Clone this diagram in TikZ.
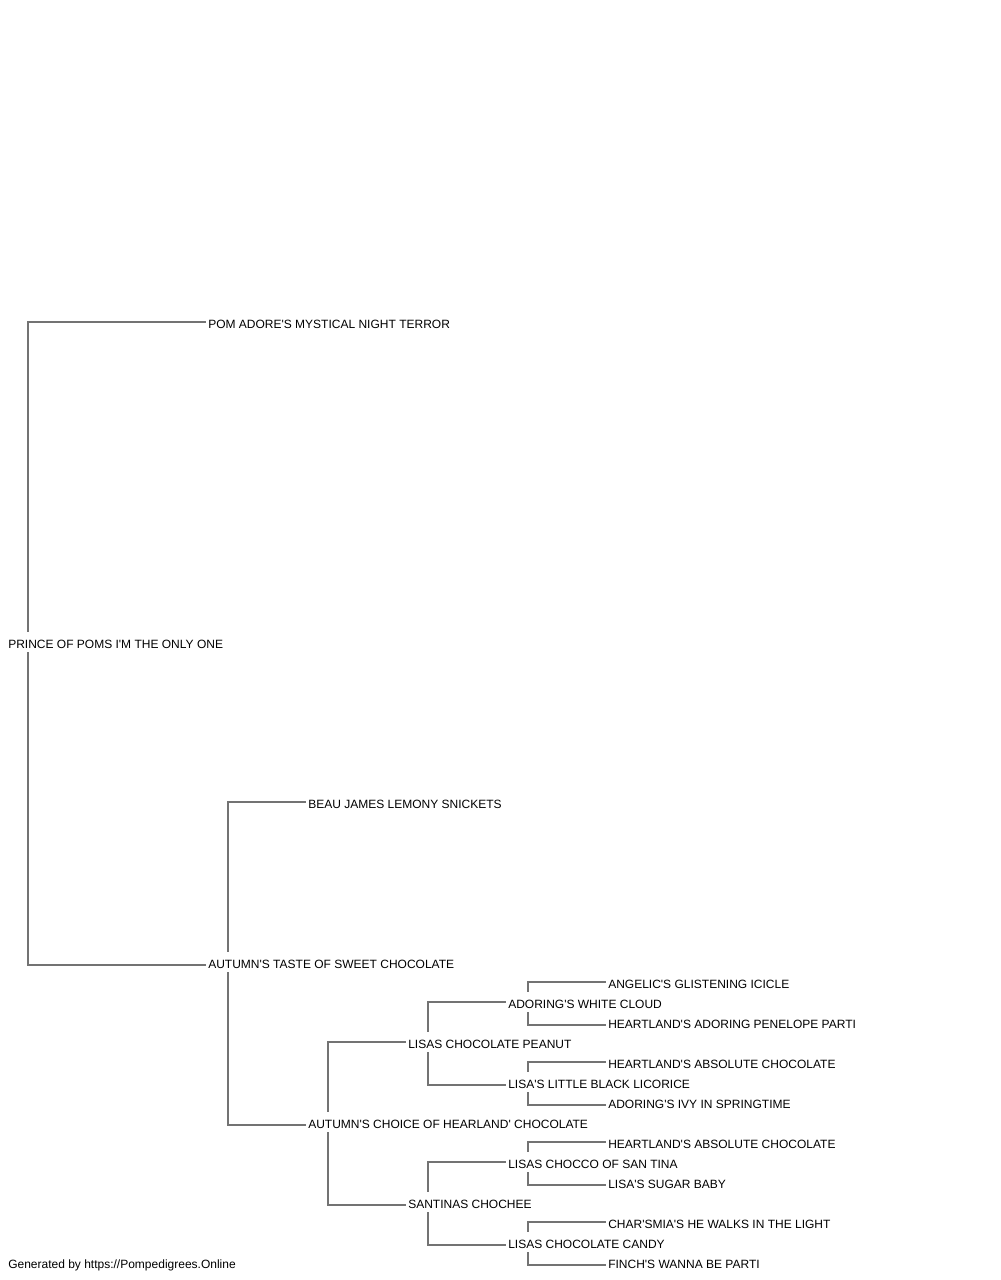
\documentclass[tikz,border=0pt]{standalone}
\usepackage{fontspec}
\newfontfamily\pedfont{Liberation Sans}
\usepackage{tikz}
\usetikzlibrary{positioning, calc, backgrounds}

\begin{document}
\begin{tikzpicture}[
    x=0.75pt, y=-0.75pt,
    dog/.style={anchor=west, fill=white, inner xsep=1.5pt, inner ysep=1.2pt, text height=11pt, text depth=1.55pt, font=\pedfont\fontsize{9pt}{11pt}\selectfont},
    link/.style={draw=black!55, line width=1.1pt}
]
    \useasboundingbox (0,0) rectangle (1000,1280);

    % Dog
    \node[dog] (prince) at (6, 642) {PRINCE OF POMS I'M THE ONLY ONE};

    % Parents
    \node[dog] (pomadore) at (206, 322) {POM ADORE'S MYSTICAL NIGHT TERROR};
    \node[dog] (autumntaste) at (206, 962) {AUTUMN'S TASTE OF SWEET CHOCOLATE};

    % Grandparents
    \node[dog] (beaujames) at (306, 802) {BEAU JAMES LEMONY SNICKETS};
    \node[dog] (autumnchoice) at (306, 1122) {AUTUMN'S CHOICE OF HEARLAND' CHOCOLATE};

    % Great-grandparents
    \node[dog] (peanut) at (406, 1042) {LISAS CHOCOLATE PEANUT};
    \node[dog] (santinas) at (406, 1202) {SANTINAS CHOCHEE};

    % 4th generation
    \node[dog] (whitecloud) at (506, 1002) {ADORING'S WHITE CLOUD};
    \node[dog] (licorice) at (506, 1082) {LISA'S LITTLE BLACK LICORICE};
    \node[dog] (chocco) at (506, 1162) {LISAS CHOCCO OF SAN TINA};
    \node[dog] (candy) at (506, 1242) {LISAS CHOCOLATE CANDY};

    % 5th generation
    \node[dog] (icicle) at (606, 982) {ANGELIC'S GLISTENING ICICLE};
    \node[dog] (penelope) at (606, 1022) {HEARTLAND'S ADORING PENELOPE PARTI};
    \node[dog] (absoluteA) at (606, 1062) {HEARTLAND'S ABSOLUTE CHOCOLATE};
    \node[dog] (ivy) at (606, 1102) {ADORING'S IVY IN SPRINGTIME};
    \node[dog] (absoluteB) at (606, 1142) {HEARTLAND'S ABSOLUTE CHOCOLATE};
    \node[dog] (sugarbaby) at (606, 1182) {LISA'S SUGAR BABY};
    \node[dog] (charsmia) at (606, 1222) {CHAR'SMIA'S HE WALKS IN THE LIGHT};
    \node[dog] (finch) at (606, 1262) {FINCH'S WANNA BE PARTI};

    % Footer
    \node[dog] (footer) at (6, 1262) {Generated by https://Pompedigrees.Online};

    % Links (lower parent lines sit a little below the name)
    \begin{scope}[on background layer]
    \draw[link] ([xshift=16.5pt]prince.west) |- (pomadore.west);
    \draw[link] ([xshift=16.5pt]prince.west) |- ([yshift=-2.25pt]autumntaste.west);
    \draw[link] ([xshift=16.5pt]autumntaste.west) |- (beaujames.west);
    \draw[link] ([xshift=16.5pt]autumntaste.west) |- ([yshift=-2.25pt]autumnchoice.west);
    \draw[link] ([xshift=16.5pt]autumnchoice.west) |- (peanut.west);
    \draw[link] ([xshift=16.5pt]autumnchoice.west) |- ([yshift=-2.25pt]santinas.west);
    \draw[link] ([xshift=16.5pt]peanut.west) |- (whitecloud.west);
    \draw[link] ([xshift=16.5pt]peanut.west) |- ([yshift=-2.25pt]licorice.west);
    \draw[link] ([xshift=16.5pt]santinas.west) |- (chocco.west);
    \draw[link] ([xshift=16.5pt]santinas.west) |- ([yshift=-2.25pt]candy.west);
    \draw[link] ([xshift=16.5pt]whitecloud.west) |- (icicle.west);
    \draw[link] ([xshift=16.5pt]whitecloud.west) |- ([yshift=-2.25pt]penelope.west);
    \draw[link] ([xshift=16.5pt]licorice.west) |- (absoluteA.west);
    \draw[link] ([xshift=16.5pt]licorice.west) |- ([yshift=-2.25pt]ivy.west);
    \draw[link] ([xshift=16.5pt]chocco.west) |- (absoluteB.west);
    \draw[link] ([xshift=16.5pt]chocco.west) |- ([yshift=-2.25pt]sugarbaby.west);
    \draw[link] ([xshift=16.5pt]candy.west) |- (charsmia.west);
    \draw[link] ([xshift=16.5pt]candy.west) |- ([yshift=-2.25pt]finch.west);
    \end{scope}

\end{tikzpicture}
\end{document}
